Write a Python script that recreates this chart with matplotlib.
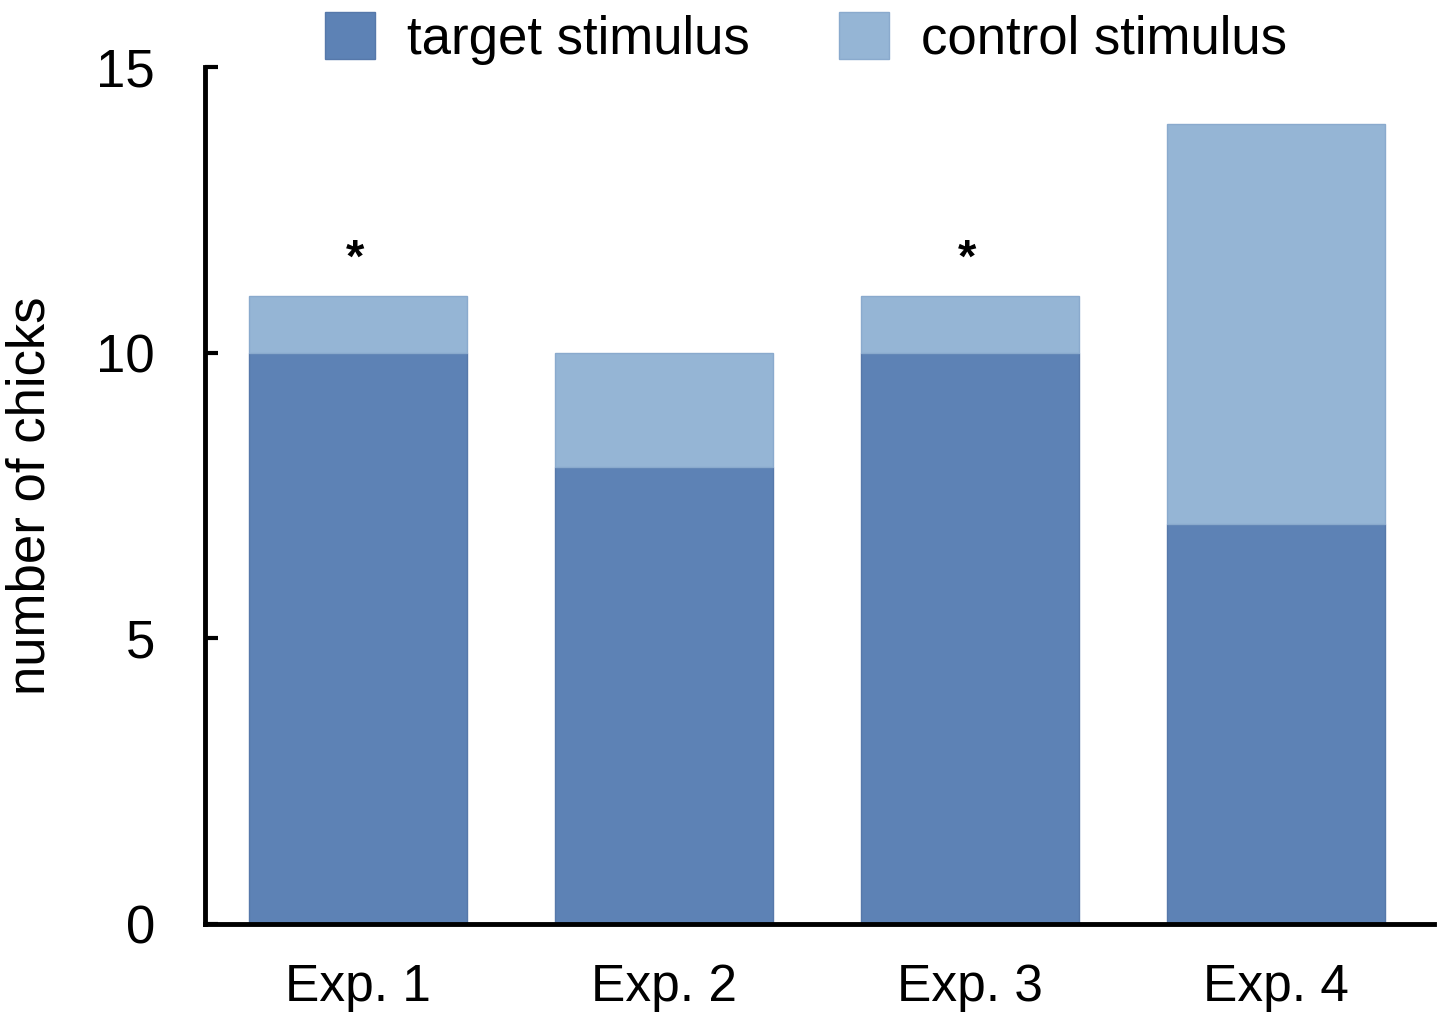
import matplotlib
matplotlib.use('Agg')
import matplotlib.pyplot as plt
import numpy as np

plt.rcParams['font.family'] = ['Liberation Sans', 'DejaVu Sans']

experiments = ['Exp. 1', 'Exp. 2', 'Exp. 3', 'Exp. 4']
target = [10, 8, 10, 7]
control = [1, 2, 1, 7]
significant = [True, False, True, False]

dark = '#5d82b5'
light = '#95b5d5'


def main():
    fig = plt.figure(figsize=(14.39, 10.14), dpi=100)
    ax = fig.add_axes([0.1425, 0.0888, 0.854, 0.845])

    x = np.arange(len(experiments))
    w = 0.715
    b1 = ax.bar(x, target, width=w, color=dark, edgecolor='#5678aa', linewidth=1.0,
                label='target stimulus')
    b2 = ax.bar(x, control, width=w, bottom=target, color=light, edgecolor='#8aaacd',
                linewidth=1.0, label='control stimulus')

    # significance marks
    for xi, t, c, s in zip(x, target, control, significant):
        if s:
            ax.text(xi - 0.01, t + c + 0.62, '*', ha='center', va='center',
                    fontsize=34, fontweight='bold')

    ax.set_xlim(-0.5, 3.516)
    ax.set_ylim(0, 15)
    ax.set_yticks([0, 5, 10, 15])
    ax.set_xticks(x)
    ax.set_xticklabels(experiments)
    ax.tick_params(axis='y', direction='in', length=9, width=3, labelsize=38, pad=36)
    ax.tick_params(axis='x', length=0, labelsize=37, pad=28)
    for side in ['top', 'right']:
        ax.spines[side].set_visible(False)
    for side in ['left', 'bottom']:
        ax.spines[side].set_linewidth(3.5)

    ax.set_ylabel('number of chicks', fontsize=38)
    ax.yaxis.set_label_coords(-0.122, 0.5)

    fig.legend([b1, b2], ['target stimulus', 'control stimulus'], ncol=2,
               loc='upper center', bbox_to_anchor=(0.56, 1.035), frameon=False,
               fontsize=38, handlelength=0.95, handleheight=1.0, handletextpad=0.6,
               columnspacing=1.7)

    fig.savefig('out.png', dpi=100)


if __name__ == '__main__':
    main()
